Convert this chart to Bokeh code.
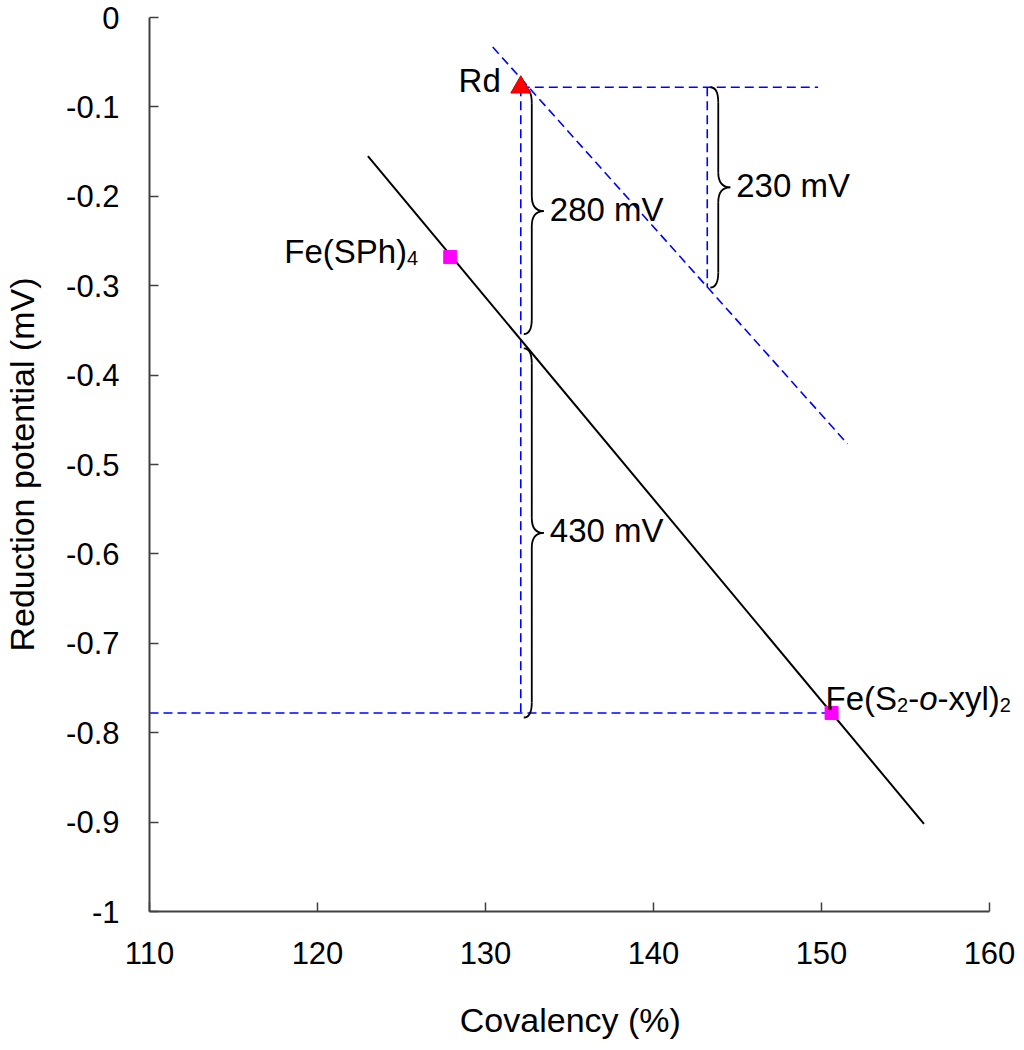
from bokeh.plotting import figure
from bokeh.models import Range1d, FixedTicker, Label
from bokeh.embed import file_html
from bokeh.resources import INLINE
from bokeh.core.properties import value

# ---------------- data ----------------
x_ticks = [110, 120, 130, 140, 150, 160]
x_tick_labels = ["110", "120", "130", "140", "150", "160"]
y_ticks = [0, -0.1, -0.2, -0.3, -0.4, -0.5, -0.6, -0.7, -0.8, -0.9, -1]
y_tick_labels = ["0", "-0.1", "-0.2", "-0.3", "-0.4", "-0.5", "-0.6",
                 "-0.7", "-0.8", "-0.9", "-1"]

rd_covalency = [132.1]
rd_potential = [-0.078]
model_covalency = [127.9, 150.6]
model_potential = [-0.268, -0.778]
fit_covalency = [123.0, 156.1]
fit_potential = [-0.155, -0.902]
shifted_covalency = [130.43, 151.55]
shifted_potential = [-0.033, -0.477]
guide_h_x = [[132.1, 149.8], [110.0, 150.6]]
guide_h_y = [[-0.078, -0.078], [-0.778, -0.778]]
guide_v_x = [[132.1, 132.1], [143.2, 143.2]]
guide_v_y = [[-0.078, -0.778], [-0.078, -0.302]]
brace_covalency = [132.1, 132.1, 143.2]
brace_top = [-0.079, -0.370, -0.078]
brace_bottom = [-0.354, -0.783, -0.302]
brace_labels = ["280 mV", "430 mV", "230 mV"]

# ---------------- figure ----------------
X0, X1, Y0, Y1 = 110, 160, -1, 0
SX = 16.8            # pixels per covalency unit
SY = 894.0           # pixels per potential unit
FW = 870             # frame extends past 160 so the right-hand label is not clipped
FH = int(SY * (Y1 - Y0))
FONT = "Liberation Sans"

p = figure(x_range=Range1d(X0, X0 + FW / SX), y_range=Range1d(Y0, Y1),
           frame_width=FW, frame_height=FH,
           min_border_left=142, min_border_right=4,
           min_border_top=17, min_border_bottom=130,
           output_backend="svg", toolbar_location=None)
p.outline_line_color = None
p.grid.visible = False
p.background_fill_color = "white"
p.border_fill_color = "white"

for ax in (p.xaxis[0], p.yaxis[0]):
    ax.axis_line_color = "#404040"
    ax.axis_line_width = 2
    ax.major_tick_line_color = "#404040"
    ax.major_tick_line_width = 1.5
    ax.major_tick_in = 9
    ax.major_tick_out = 0
    ax.minor_tick_line_color = None
    ax.major_label_text_font = FONT
    ax.major_label_text_font_size = "31px"
    ax.major_label_text_color = "black"
    ax.axis_label_text_font = FONT
    ax.axis_label_text_font_size = "34px"
    ax.axis_label_text_font_style = "normal"
    ax.axis_label_text_color = "black"

p.xaxis.bounds = (X0, X1)
p.xaxis.ticker = FixedTicker(ticks=x_ticks)
p.xaxis.major_label_overrides = dict(zip(x_ticks, x_tick_labels))
p.yaxis.ticker = FixedTicker(ticks=y_ticks)
p.yaxis.major_label_overrides = dict(zip(y_ticks, y_tick_labels))
# trailing no-break spaces re-centre the title under the 110-160 span
p.xaxis.axis_label = "Covalency (%)" + "\u00a0" * 3
p.yaxis.axis_label = "Reduction potential (mV)"
p.xaxis.major_label_standoff = 30
p.yaxis.major_label_standoff = 30
p.xaxis.axis_label_standoff = 34
p.yaxis.axis_label_standoff = 22

DASH = dict(line_color="#0000FF", line_width=1.6, line_dash="9 5")

# dashed guides
p.multi_line(xs=guide_h_x, ys=guide_h_y, **DASH)
p.multi_line(xs=guide_v_x, ys=guide_v_y, **DASH)
p.line(shifted_covalency, shifted_potential, **DASH)

# fitted line
p.line(fit_covalency, fit_potential, line_color="black", line_width=2)

# braces
bx0, by0, bx1, by1, bcx, bcy = [], [], [], [], [], []
sx0, sy0, sx1, sy1 = [], [], [], []
lx, ly = [], []
for xb, yt, yb in zip(brace_covalency, brace_top, brace_bottom):
    xe = xb + 3 / SX
    xs = xb + 11 / SX
    xt = xb + 23 / SX
    r = 15 / SY
    ym = (yt + yb) / 2
    for a, c, b in [((xe, yt), (xs, yt), (xs, yt - r)),
                    ((xs, ym + r), (xs, ym), (xt, ym)),
                    ((xt, ym), (xs, ym), (xs, ym - r)),
                    ((xs, yb + r), (xs, yb), (xe, yb))]:
        bx0.append(a[0]); by0.append(a[1])
        bx1.append(b[0]); by1.append(b[1])
        bcx.append(c[0]); bcy.append(c[1])
    sx0 += [xs, xs]; sy0 += [yt - r, ym - r]
    sx1 += [xs, xs]; sy1 += [ym + r, yb + r]
    lx.append(xt); ly.append(ym)
p.quadratic(x0=bx0, y0=by0, x1=bx1, y1=by1, cx=bcx, cy=bcy,
            line_color="black", line_width=1.8)
p.segment(x0=sx0, y0=sy0, x1=sx1, y1=sy1, line_color="black", line_width=1.8)
p.text(x=lx, y=ly, text=brace_labels, x_offset=6, y_offset=-2,
       text_align="left", text_baseline="middle",
       text_font=value(FONT), text_font_size="33px", text_color="black")

# markers
p.scatter(model_covalency, model_potential, marker="square", size=13,
          fill_color="#FF00FF", line_color="#FF00FF")
p.scatter(rd_covalency, rd_potential, marker="triangle", size=20,
          fill_color="#FF0000", line_color="#CC0000", line_width=1)

# labels
p.text(x=rd_covalency, y=rd_potential, text=["Rd"], x_offset=-20, y_offset=-7,
       text_align="right", text_baseline="middle",
       text_font=value(FONT), text_font_size="33px", text_color="black")

ADV = {"F": 611, "e": 556, "(": 333, "S": 667, "P": 667, "h": 556, ")": 333,
       "0": 556, "1": 556, "2": 556, "3": 556, "4": 556, "-": 333, "o": 556,
       "x": 500, "y": 500, "l": 222}


def widths(parts):
    return [sum(ADV[ch] for ch in t) / 1000 * s for t, s, st, d in parts]


def rich_glyph(x, y, parts, x0, y0):
    # right-aligned at x0 (pixels); y offsets measured downward
    ws = widths(parts)
    start = x0 - sum(ws)
    for (t, s, st, d), w in zip(parts, ws):
        p.text(x=[x], y=[y], text=[t], x_offset=start, y_offset=y0 + d,
               text_align="left", text_baseline="middle",
               text_font=value(FONT), text_font_size=f"{s}px",
               text_font_style=st, text_color="black")
        start += w


def rich_label(x, y, parts, x0, y0):
    # left-aligned at x0 (pixels); annotation offsets measured upward
    ws = widths(parts)
    start = x0
    for (t, s, st, d), w in zip(parts, ws):
        p.add_layout(Label(x=x, y=y, text=t, x_offset=start, y_offset=y0 - d,
                           text_align="left", text_baseline="middle",
                           text_font=FONT, text_font_size=f"{s}px",
                           text_font_style=st, text_color="black"))
        start += w


rich_glyph(model_covalency[0], model_potential[0],
           [("Fe(SPh)", 33, "normal", 0), ("4", 20, "normal", 7)], -32, -6)
rich_label(model_covalency[1], model_potential[1],
           [("Fe(S", 33, "normal", 0), ("2", 20, "normal", 7),
            ("-", 33, "normal", 0), ("o", 33, "italic", 0),
            ("-xyl)", 33, "normal", 0), ("2", 20, "normal", 7)], -6, 15)

open("out.html", "w").write(file_html(p, INLINE))
